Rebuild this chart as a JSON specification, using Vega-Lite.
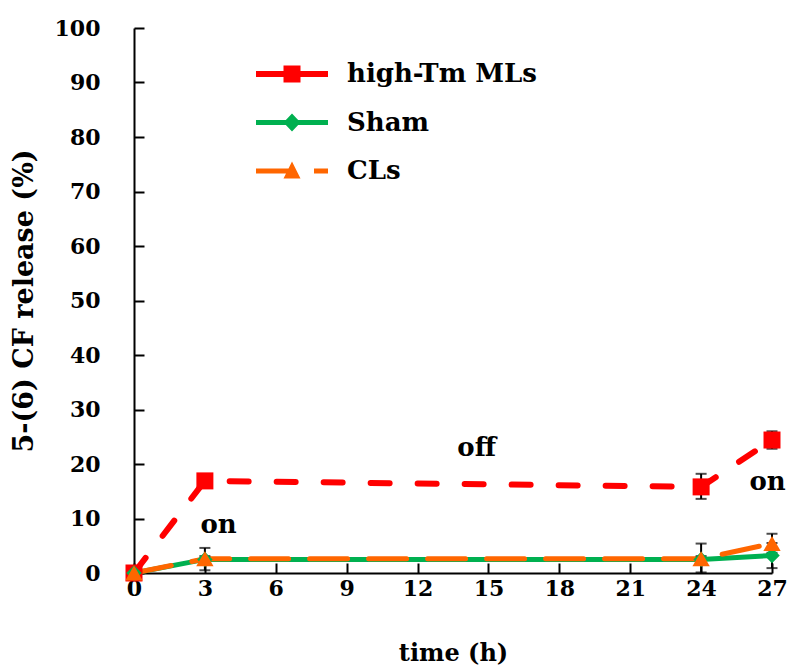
{
  "$schema": "https://vega.github.io/schema/vega-lite/v6.json",
  "width": 638,
  "height": 545,
  "autosize": {"type": "none"},
  "padding": {"left": 134, "top": 28, "right": 20, "bottom": 96},
  "background": "white",
  "config": {
    "view": {"stroke": null},
    "font": "DejaVu Serif",
    "axis": {
      "domainColor": "black",
      "domainWidth": 2,
      "tickColor": "black",
      "tickWidth": 2,
      "tickSize": -10,
      "grid": false,
      "labelFont": "DejaVu Serif",
      "labelFontSize": 22,
      "labelFontWeight": "bold",
      "labelColor": "black",
      "titleFont": "DejaVu Serif",
      "titleFontWeight": "bold",
      "titleColor": "black"
    }
  },
  "datasets": {
    "main": [
      {"series": "high-Tm MLs", "time": 0, "value": 0, "lo": 0, "hi": 0},
      {"series": "high-Tm MLs", "time": 3, "value": 16.9, "lo": 16.4, "hi": 17.4},
      {"series": "high-Tm MLs", "time": 24, "value": 15.8, "lo": 13.6, "hi": 18.2},
      {"series": "high-Tm MLs", "time": 27, "value": 24.4, "lo": 22.8, "hi": 26.0},
      {"series": "Sham", "time": 0, "value": 0, "lo": 0, "hi": 0},
      {"series": "Sham", "time": 3, "value": 2.5, "lo": 1.9, "hi": 3.1},
      {"series": "Sham", "time": 24, "value": 2.5, "lo": 1.9, "hi": 3.1},
      {"series": "Sham", "time": 27, "value": 3.2, "lo": 0.9, "hi": 5.5},
      {"series": "CLs", "time": 0, "value": 0, "lo": 0, "hi": 0},
      {"series": "CLs", "time": 3, "value": 2.6, "lo": 0.5, "hi": 4.6},
      {"series": "CLs", "time": 24, "value": 2.6, "lo": 0.1, "hi": 5.4},
      {"series": "CLs", "time": 27, "value": 5.4, "lo": 3.7, "hi": 7.2}
    ],
    "notes": [
      {"time": 3.58, "value": 7.3, "label": "on"},
      {"time": 14.5, "value": 21.5, "label": "off"},
      {"time": 26.81, "value": 15.2, "label": "on"}
    ]
  },
  "data": {"name": "main"},
  "encoding": {
    "x": {
      "field": "time",
      "type": "quantitative",
      "scale": {"domain": [0, 27], "nice": false, "zero": false},
      "axis": {
        "values": [0, 3, 6, 9, 12, 15, 18, 21, 24, 27],
        "title": "time (h)",
        "titleFontSize": 24,
        "titlePadding": 42,
        "labelPadding": 15,
        "labelFlush": false
      }
    },
    "y": {
      "field": "value",
      "type": "quantitative",
      "title": "5-(6) CF release (%)",
      "scale": {"domain": [0, 100], "nice": false},
      "axis": {
        "values": [0, 10, 20, 30, 40, 50, 60, 70, 80, 90, 100],
        "titleFontSize": 27,
        "titlePadding": 16,
        "labelPadding": 44,
        "labelFlush": false
      }
    }
  },
  "layer": [
    {
      "transform": [{"filter": "datum.series === 'Sham'"}],
      "mark": {"type": "line", "color": "#00B050", "strokeWidth": 5, "strokeCap": "round"}
    },
    {
      "transform": [{"filter": "datum.series === 'CLs'"}],
      "mark": {"type": "line", "color": "#FF6600", "strokeWidth": 5, "strokeCap": "round", "strokeDash": [38, 21]}
    },
    {
      "transform": [{"filter": "datum.series === 'high-Tm MLs'"}],
      "mark": {"type": "line", "color": "#FF0000", "strokeWidth": 6, "strokeCap": "round", "strokeDash": [19, 28]}
    },
    {
      "transform": [{"filter": "datum.time > 0"}],
      "mark": {"type": "rule", "color": "black", "strokeWidth": 2},
      "encoding": {
        "y": {"field": "lo", "type": "quantitative", "title": "5-(6) CF release (%)"},
        "y2": {"field": "hi"}
      }
    },
    {
      "transform": [{"filter": "datum.time > 0"}],
      "mark": {"type": "tick", "color": "black", "orient": "horizontal", "size": 11, "thickness": 2},
      "encoding": {
        "y": {"field": "lo", "type": "quantitative", "title": "5-(6) CF release (%)"}
      }
    },
    {
      "transform": [{"filter": "datum.time > 0"}],
      "mark": {"type": "tick", "color": "black", "orient": "horizontal", "size": 11, "thickness": 2},
      "encoding": {
        "y": {"field": "hi", "type": "quantitative", "title": "5-(6) CF release (%)"}
      }
    },
    {
      "transform": [{"filter": "datum.series === 'high-Tm MLs'"}],
      "mark": {"type": "point", "filled": true, "opacity": 1, "size": 289, "shape": "square", "color": "#FF0000"}
    },
    {
      "transform": [{"filter": "datum.series === 'Sham'"}],
      "mark": {"type": "point", "filled": true, "opacity": 1, "size": 240, "shape": "diamond", "color": "#00B050"}
    },
    {
      "transform": [{"filter": "datum.series === 'CLs'"}],
      "mark": {"type": "point", "filled": true, "opacity": 1, "size": 300, "shape": "triangle-up", "color": "#FF6600"}
    },
    {
      "transform": [{"filter": "datum.time < 0"}],
      "mark": {"type": "point", "filled": true, "opacity": 1, "size": 400},
      "encoding": {
        "color": {
          "field": "series",
          "type": "nominal",
          "scale": {"domain": ["high-Tm MLs", "Sham", "CLs"], "range": ["#FF0000", "#00B050", "#FF6600"]},
          "legend": {
            "orient": "none",
            "legendX": 145,
            "legendY": 33,
            "title": null,
            "padding": 0,
            "symbolSize": 400,
            "symbolStrokeWidth": 0,
            "symbolOpacity": 1,
            "labelFont": "DejaVu Serif",
            "labelFontSize": 26,
            "labelFontWeight": "bold",
            "labelColor": "black",
            "labelOffset": 42,
            "labelLimit": 0,
            "rowPadding": 22.5
          }
        },
        "shape": {
          "field": "series",
          "type": "nominal",
          "scale": {
            "domain": ["high-Tm MLs", "Sham", "CLs"],
            "range": [
              "M-3.6,-0.3H3.6V0.3H-3.6Z M-0.85,-0.85H0.85V0.85H-0.85Z",
              "M-3.6,-0.25H3.6V0.25H-3.6Z M0,-0.9L0.85,0L0,0.9L-0.85,0Z",
              "M-3.6,-0.25H0V0.25H-3.6Z M0,-0.95L0.85,0.75H-0.85Z M2.2,-0.25H3.6V0.25H2.2Z"
            ]
          }
        }
      }
    },
    {
      "data": {"name": "notes"},
      "mark": {"type": "text", "fontSize": 26, "fontWeight": "bold", "font": "DejaVu Serif", "color": "black", "align": "center", "baseline": "alphabetic"},
      "encoding": {
        "text": {"field": "label", "type": "nominal"}
      }
    }
  ]
}
